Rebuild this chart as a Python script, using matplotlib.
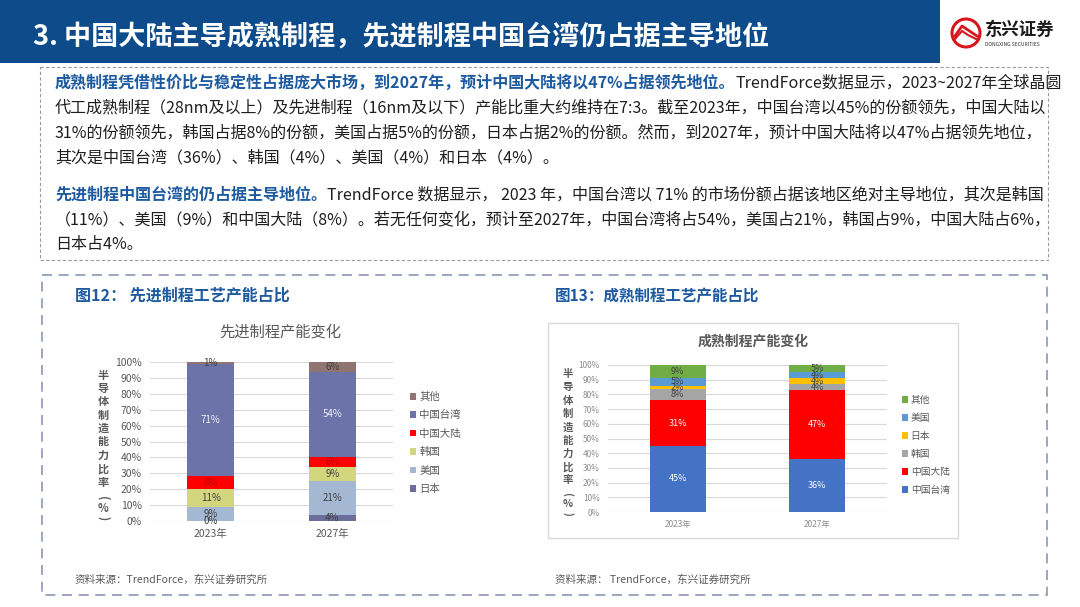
import matplotlib
matplotlib.use('Agg')
import matplotlib.pyplot as plt
from matplotlib.patches import Rectangle, Circle
from matplotlib.ticker import PercentFormatter

plt.rcParams['font.family'] = ['Noto Sans CJK SC', 'DejaVu Sans']

# ---- data ----
years = ['2023年', '2027年']

adv_regions = ['日本', '美国', '韩国', '中国大陆', '中国台湾', '其他']
adv_2023 = [0, 9, 11, 8, 71, 1]
adv_2027 = [4, 21, 9, 6, 54, 6]
adv_colors = ['#6b6e9c', '#a4b7d3', '#d4d67e', '#ff0000', '#6c73a8', '#8f7470']
adv_label_colors = ['#404040', '#404040', '#404040', '#c00000', '#eef0f8', '#404040']

mat_regions = ['中国台湾', '中国大陆', '韩国', '日本', '美国', '其他']
mat_2023 = [45, 31, 8, 2, 5, 9]
mat_2027 = [36, 47, 4, 4, 4, 5]
mat_colors = ['#4472c4', '#ff0000', '#a5a5a5', '#ffc000', '#5b9bd5', '#70ad47']
mat_label_colors = ['#ffffff', '#ffffff', '#404040', '#404040', '#404040', '#404040']

title = '3. 中国大陆主导成熟制程，先进制程中国台湾仍占据主导地位'
para1 = [
    [('成熟制程凭借性价比与稳定性占据庞大市场，到2027年，预计中国大陆将以47%占据领先地位。', 'b'),
     ('TrendForce数据显示，2023~2027年全球晶圆', 'n')],
    [('代工成熟制程（28nm及以上）及先进制程（16nm及以下）产能比重大约维持在7:3。截至2023年，中国台湾以45%的份额领先，中国大陆以', 'n')],
    [('31%的份额领先，韩国占据8%的份额，美国占据5%的份额，日本占据2%的份额。然而，到2027年，预计中国大陆将以47%占据领先地位，', 'n')],
    [('其次是中国台湾（36%）、韩国（4%）、美国（4%）和日本（4%）。', 'n')],
]
para2 = [
    [('先进制程中国台湾的仍占据主导地位。', 'b'),
     ('TrendForce 数据显示， 2023 年，中国台湾以 71% 的市场份额占据该地区绝对主导地位，其次是韩国', 'n')],
    [('（11%）、美国（9%）和中国大陆（8%）。若无任何变化，预计至2027年，中国台湾将占54%，美国占21%，韩国占9%，中国大陆占6%，', 'n')],
    [('日本占4%。', 'n')],
]
ylabel_chars = ['半', '导', '体', '制', '造', '能', '力', '比', '率', '(', '%', ')']
source = '资料来源：TrendForce，东兴证券研究所'

W, H = 1080, 607
fig = plt.figure(figsize=(10.8, 6.07), dpi=100)
renderer = fig.canvas.get_renderer()

bg = fig.add_axes([0, 0, 1, 1])
bg.set_xlim(0, W)
bg.set_ylim(H, 0)
bg.axis('off')

BLUE = '#1d5aa0'


def fit_size(s, width, weight='normal'):
    t = bg.text(0, 0, s, fontsize=10, weight=weight)
    w = t.get_window_extent(renderer).width
    t.remove()
    return 10 * width / w


def runs(x, y, parts, size):
    for s, kind in parts:
        if kind == 'b':
            t = bg.text(x, y, s, fontsize=size, color=BLUE, weight='bold', va='center')
        else:
            t = bg.text(x, y, s, fontsize=size, color='#1f1f1f', va='center')
        x += t.get_window_extent(renderer).width


# header
bg.add_patch(Rectangle((0, 0), 940, 63, color='#0d4b8b', lw=0))
bg.text(33, 38, title, color='white', weight='bold', va='center',
        fontsize=fit_size(title, 735, 'bold'))

# logo
bg.add_patch(Circle((966, 33), 14, facecolor='white', edgecolor='#d7161e', lw=2.2))
bg.plot([955, 962, 968, 977], [36, 26, 30, 36], color='#d7161e', lw=2)
bg.plot([954, 962, 968, 978], [40, 31, 35, 40], color='#d7161e', lw=1.5)
bg.text(985, 30, '东兴证券', fontsize=12.5, weight='bold', color='#1a1a1a', va='center')
bg.text(985, 44, 'DONGXING SECURITIES', fontsize=3.6, color='#333333', va='center')

# text box
bg.add_patch(Rectangle((40, 67), 1008, 193, fill=False, edgecolor='#9a9a9a',
                       lw=0.8, linestyle=(0, (3, 2))))
body_size = fit_size(para1[2][0][0], 990)
for i, line in enumerate(para1):
    runs(55, 83 + i * 25, line, body_size)
for i, line in enumerate(para2):
    runs(55, 195 + i * 25, line, body_size)

# lower box
bg.add_patch(Rectangle((42, 275), 1005, 320, fill=False, edgecolor='#8a98b4',
                       lw=1.2, linestyle=(0, (6, 4))))
t12 = '图12： 先进制程工艺产能占比'
t13 = '图13：成熟制程工艺产能占比'
bg.text(75, 296, t12, color=BLUE, weight='bold', va='center', fontsize=fit_size(t12, 215, 'bold'))
bg.text(555, 296, t13, color=BLUE, weight='bold', va='center', fontsize=fit_size(t13, 205, 'bold'))
bg.text(75, 580, source, color='#595959', va='center', fontsize=7.6)
bg.text(555, 580, source.replace('：', '： '), color='#595959', va='center', fontsize=7.6)

# right chart frame
bg.add_patch(Rectangle((548, 323), 410, 215, facecolor='white', edgecolor='#d9d9d9', lw=1))

# chart titles
bg.text(280, 332, '先进制程产能变化', ha='center', va='center', fontsize=11, color='#595959')
bg.text(753, 342, '成熟制程产能变化', ha='center', va='center', fontsize=10, color='#595959',
        weight='bold')

# vertical y labels (brackets turned to read top-down)
for i, ch in enumerate(ylabel_chars):
    rot = -90 if ch in '()' else 0
    yy = 375 + i * 13.4 if i < 9 else 498 + (i - 9) * 10
    bg.text(103, yy, ch, ha='center', va='center', fontsize=8, color='#595959',
            weight='bold', rotation=rot)
    yy2 = 374 + i * 13.3 if i < 9 else 494 + (i - 9) * 10
    bg.text(568, yy2, ch, ha='center', va='center', fontsize=7.5, color='#595959',
            weight='bold', rotation=rot)


def add_ax(x0, y0, x1, y1):
    return fig.add_axes([x0 / W, 1 - y1 / H, (x1 - x0) / W, (y1 - y0) / H])


def stacked(ax, regions, v23, v27, colors, lcolors, width, lsize, tick_size, tick_color, pad):
    ax.patch.set_alpha(0)
    bottom = [0, 0]
    handles = []
    for r, a, b, c, lc in zip(regions, v23, v27, colors, lcolors):
        vals = [a / 100, b / 100]
        bars = ax.bar([0, 1], vals, width, bottom=bottom, color=c, label=r, zorder=2)
        ax.bar_label(bars, labels=[f'{a}%', f'{b}%'], label_type='center',
                     fontsize=lsize, color=lc, zorder=3)
        bottom = [bottom[0] + vals[0], bottom[1] + vals[1]]
        handles.append(bars)
    ax.set_xlim(-0.5, 1.5)
    ax.set_ylim(0, 1)
    ax.set_yticks([i / 10 for i in range(11)])
    ax.yaxis.set_major_formatter(PercentFormatter(1.0, decimals=0))
    ax.set_xticks([0, 1], years)
    ax.grid(axis='y', color='#d9d9d9', lw=0.8, zorder=0)
    ax.set_axisbelow(True)
    for s in ax.spines.values():
        s.set_visible(False)
    ax.tick_params(length=0, labelsize=tick_size, colors=tick_color, pad=pad)
    return handles


axl = add_ax(150, 362, 393, 521)
hl = stacked(axl, adv_regions, adv_2023, adv_2027, adv_colors, adv_label_colors,
             0.39, 7, 7.5, '#595959', 6)
axl.legend(hl[::-1], adv_regions[::-1], loc='upper left', bbox_to_anchor=(410 / W, 1 - 392 / H),
           bbox_transform=fig.transFigure, frameon=False, fontsize=7.5, labelcolor='#595959',
           handlelength=0.6, handleheight=0.6, handletextpad=0.3, labelspacing=0.8,
           borderpad=0, borderaxespad=0)

axr = add_ax(608, 365, 887, 512)
hr = stacked(axr, mat_regions, mat_2023, mat_2027, mat_colors, mat_label_colors,
             0.4, 6.5, 6, '#8c8c8c', 6)
axr.legend(hr[::-1], mat_regions[::-1], loc='upper left', bbox_to_anchor=(902 / W, 1 - 395 / H),
           bbox_transform=fig.transFigure, frameon=False, fontsize=7, labelcolor='#595959',
           handlelength=0.6, handleheight=0.6, handletextpad=0.3, labelspacing=0.82,
           borderpad=0, borderaxespad=0)

fig.savefig('out.png', dpi=100)
